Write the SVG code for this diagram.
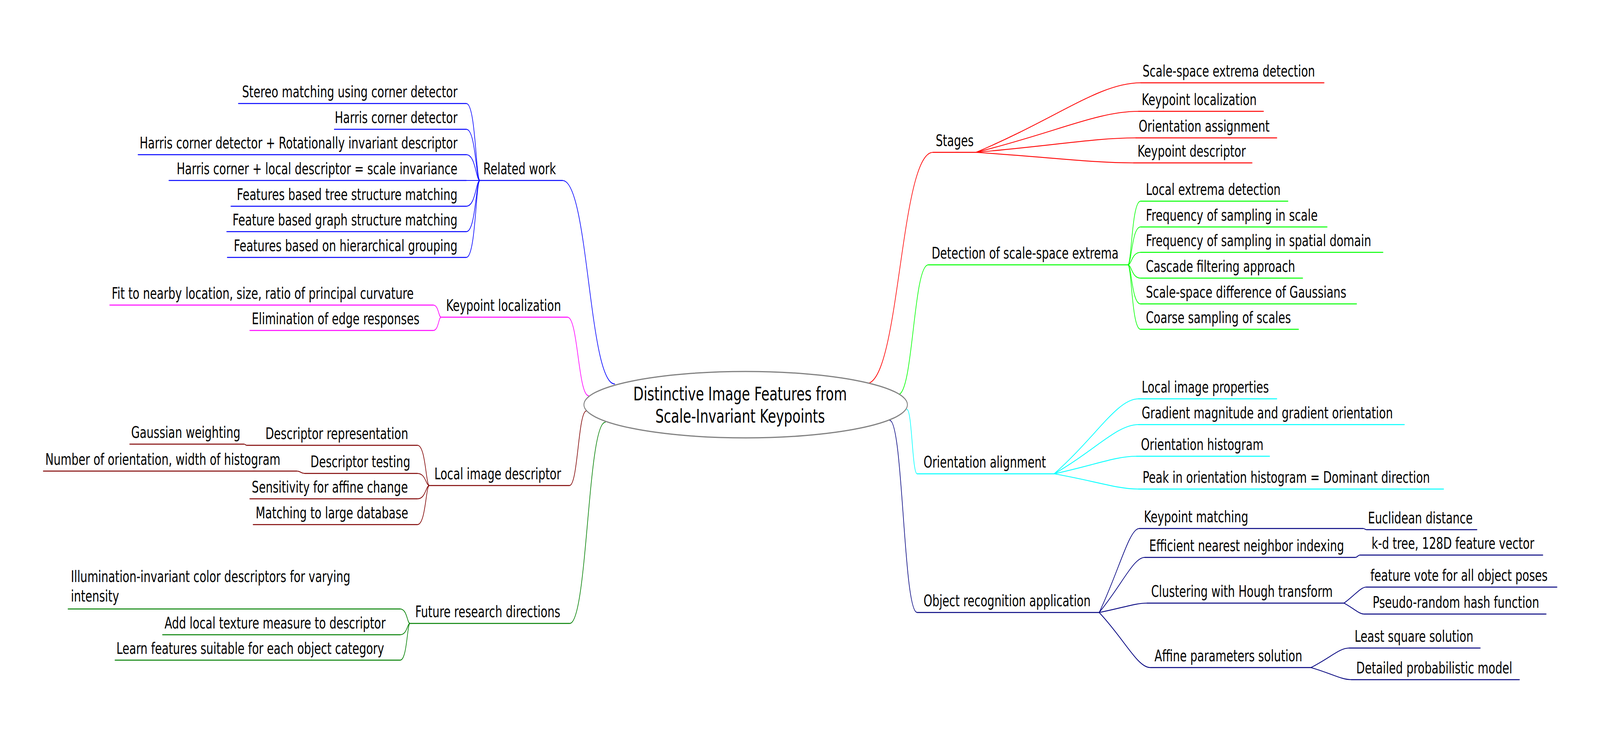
<svg xmlns="http://www.w3.org/2000/svg" width="5757" height="1897" viewBox="0 0 5757 1897" preserveAspectRatio="none">
<style>
svg{width:100vw;height:100vh}
text{font-family:"DejaVu Sans","Liberation Sans",sans-serif;font-size:40px;fill:#000}
.title{font-size:48px;text-anchor:middle}
.e{text-anchor:end}
.u{fill:none;stroke-width:2.6;stroke-linecap:round}
.k{fill:none;stroke-width:2.2;stroke-linecap:round}
.blue{stroke:#0000ff}.mag{stroke:#ff00ff}.mar{stroke:#7f0000}.grn{stroke:#007f00}
.red{stroke:#ff0000}.lime{stroke:#00ff00}.cyan{stroke:#00ffff}.navy{stroke:#00007f}
</style>
<rect width="5757" height="1897" fill="#fff"/>
<g id="connectors">
<path class="k blue" d="M2024,462 C2118,462 2118,983 2212,983"/>
<path class="k mag" d="M2042,812 C2080,812 2080,1013 2118,1013"/>
<path class="k mar" d="M2049,1243 C2080,1243 2080,1052 2110,1052"/>
<path class="k grn" d="M2050,1596 C2114,1596 2114,1081 2178,1081"/>
<path class="k red" d="M3118,982 C3238,982 3238,390 3357,390"/>
<path class="k lime" d="M3232,1010 C3286,1010 3286,678 3340,678"/>
<path class="k cyan" d="M3263,1048 C3282,1048 3282,1213 3300,1213"/>
<path class="k navy" d="M3201,1076 C3250,1076 3250,1568 3300,1568"/>
<g class="k blue">
<path d="M1678,265 C1712,265 1712,462 1727,462"/>
<path d="M1678,331 C1712,331 1712,462 1727,462"/>
<path d="M1678,396 C1712,396 1712,462 1727,462"/>
<path d="M1678,462 L1727,462"/>
<path d="M1678,528 C1712,528 1712,462 1727,462"/>
<path d="M1678,593 C1712,593 1712,462 1727,462"/>
<path d="M1678,659 C1712,659 1712,462 1727,462"/>
</g>
<g class="k mag">
<path d="M1559,781 C1578,781 1578,812 1587,812"/>
<path d="M1559,846 C1578,846 1578,812 1587,812"/>
</g>
<g class="k mar">
<path d="M1502,1140 C1532,1140 1532,1243 1545,1243"/>
<path d="M1502,1212 C1532,1212 1532,1243 1545,1243"/>
<path d="M1502,1277 C1532,1277 1532,1243 1545,1243"/>
<path d="M1502,1343 C1532,1343 1532,1243 1545,1243"/>
<path d="M888,1140 C883,1140 883,1137 878,1137"/>
<path d="M1096,1212 C1082,1212 1082,1206 1068,1206"/>
</g>
<g class="k grn">
<path d="M1440,1559 C1465,1559 1465,1596 1475,1596"/>
<path d="M1440,1625 C1465,1625 1465,1596 1475,1596"/>
<path d="M1440,1690 C1465,1690 1465,1596 1475,1596"/>
</g>
<g class="k red">
<path d="M3512,390 C3808,301 3956,212 4104,212"/>
<path d="M3512,390 C3804,338 3950,285 4096,285"/>
<path d="M3512,390 C3799,372 3943,353 4086,353"/>
<path d="M3512,390 C3795,404 3936,417 4078,417"/>
</g>
<g class="k lime">
<path d="M4058,678 C4072,678 4072,515 4104,515"/>
<path d="M4058,678 C4072,678 4072,581 4104,581"/>
<path d="M4058,678 C4072,678 4072,646 4104,646"/>
<path d="M4058,678 C4072,678 4072,712 4104,712"/>
<path d="M4058,678 C4072,678 4072,778 4104,778"/>
<path d="M4058,678 C4072,678 4072,843 4104,843"/>
</g>
<g class="k cyan">
<path d="M3793,1213 C3945,1117 4020,1021 4096,1021"/>
<path d="M3793,1213 C3945,1150 4020,1087 4096,1087"/>
<path d="M3793,1213 C3941,1190 4015,1168 4089,1168"/>
<path d="M3793,1213 C3945,1232 4020,1252 4096,1252"/>
</g>
<g class="k navy">
<path d="M3955,1568 C4027,1460 4063,1353 4099,1353"/>
<path d="M3955,1568 C4037,1497 4078,1427 4119,1427"/>
<path d="M3955,1568 C4041,1556 4084,1544 4127,1544"/>
<path d="M3955,1568 C4047,1638 4093,1709 4139,1709"/>
<path d="M4905,1353 C4911,1353 4911,1356 4917,1356"/>
<path d="M4877,1427 C4885,1427 4885,1421 4893,1421"/>
<path d="M4836,1544 C4876,1523 4896,1503 4916,1503"/>
<path d="M4836,1544 C4872,1558 4890,1572 4908,1572"/>
<path d="M4717,1709 C4786,1684 4820,1659 4854,1659"/>
<path d="M4717,1709 C4790,1724 4826,1740 4862,1740"/>
</g>
</g>

<g id="root">
<ellipse cx="2683" cy="1036" rx="582" ry="85" fill="#fff" stroke="#808080" stroke-width="3"/>
<text class="title" x="2663" y="1025">Distinctive Image Features from</text>
<text class="title" x="2663" y="1082">Scale-Invariant Keypoints</text>
</g>

<g id="related-work">
<path class="u blue" d="M1727,462 H2024"/><text x="1739" y="446">Related work</text>
</g>
<g id="rw-stereo"><path class="u blue" d="M858,265 H1678"/><text class="e" x="1646" y="249">Stereo matching using corner detector</text></g>
<g id="rw-harris"><path class="u blue" d="M1203,331 H1678"/><text class="e" x="1646" y="315">Harris corner detector</text></g>
<g id="rw-harris-rot"><path class="u blue" d="M497,396 H1678"/><text class="e" x="1646" y="380">Harris corner detector + Rotationally invariant descriptor</text></g>
<g id="rw-harris-local"><path class="u blue" d="M608,462 H1678"/><text class="e" x="1646" y="446">Harris corner + local descriptor = scale invariance</text></g>
<g id="rw-tree"><path class="u blue" d="M831,528 H1678"/><text class="e" x="1646" y="512">Features based tree structure matching</text></g>
<g id="rw-graph"><path class="u blue" d="M816,593 H1678"/><text class="e" x="1646" y="577">Feature based graph structure matching</text></g>
<g id="rw-hier"><path class="u blue" d="M818,659 H1678"/><text class="e" x="1646" y="643">Features based on hierarchical grouping</text></g>

<g id="keypoint-localization-l">
<path class="u mag" d="M1587,812 H2042"/><text x="1605" y="796">Keypoint localization</text>
</g>
<g id="kl-fit"><path class="u mag" d="M395,781 H1559"/><text x="402" y="765">Fit to nearby location, size, ratio of principal curvature</text></g>
<g id="kl-elim"><path class="u mag" d="M899,846 H1559"/><text x="906" y="830">Elimination of edge responses</text></g>

<g id="local-image-descriptor">
<path class="u mar" d="M1545,1243 H2049"/><text x="1563" y="1227">Local image descriptor</text>
</g>
<g id="lid-repr"><path class="u mar" d="M888,1140 H1502"/><text x="955" y="1124">Descriptor representation</text></g>
<g id="lid-gauss"><path class="u mar" d="M467,1137 H878"/><text x="472" y="1121">Gaussian weighting</text></g>
<g id="lid-testing"><path class="u mar" d="M1096,1212 H1502"/><text x="1117" y="1196">Descriptor testing</text></g>
<g id="lid-number"><path class="u mar" d="M156,1206 H1068"/><text x="163" y="1190">Number of orientation, width of histogram</text></g>
<g id="lid-sens"><path class="u mar" d="M899,1277 H1502"/><text x="906" y="1261">Sensitivity for affine change</text></g>
<g id="lid-match"><path class="u mar" d="M911,1343 H1502"/><text x="920" y="1327">Matching to large database</text></g>

<g id="future-research">
<path class="u grn" d="M1475,1596 H2050"/><text x="1494" y="1580">Future research directions</text>
</g>
<g id="fr-illum"><path class="u grn" d="M245,1559 H1440"/><text x="255" y="1490">Illumination-invariant color descriptors for varying</text><text x="255" y="1540">intensity</text></g>
<g id="fr-texture"><path class="u grn" d="M585,1625 H1440"/><text x="592" y="1609">Add local texture measure to descriptor</text></g>
<g id="fr-learn"><path class="u grn" d="M414,1690 H1440"/><text x="419" y="1674">Learn features suitable for each object category</text></g>

<g id="stages">
<path class="u red" d="M3357,390 H3512"/><text x="3367" y="374">Stages</text>
</g>
<g id="st-1"><path class="u red" d="M4104,212 H4764"/><text x="4111" y="196">Scale-space extrema detection</text></g>
<g id="st-2"><path class="u red" d="M4096,285 H4546"/><text x="4108" y="269">Keypoint localization</text></g>
<g id="st-3"><path class="u red" d="M4086,353 H4594"/><text x="4097" y="337">Orientation assignment</text></g>
<g id="st-4"><path class="u red" d="M4078,417 H4505"/><text x="4093" y="401">Keypoint descriptor</text></g>

<g id="detection">
<path class="u lime" d="M3340,678 H4058"/><text x="3352" y="662">Detection of scale-space extrema</text>
</g>
<g id="de-1"><path class="u lime" d="M4104,515 H4634"/><text x="4123" y="499">Local extrema detection</text></g>
<g id="de-2"><path class="u lime" d="M4104,581 H4775"/><text x="4123" y="565">Frequency of sampling in scale</text></g>
<g id="de-3"><path class="u lime" d="M4104,646 H4976"/><text x="4123" y="630">Frequency of sampling in spatial domain</text></g>
<g id="de-4"><path class="u lime" d="M4104,712 H4687"/><text x="4123" y="696">Cascade filtering approach</text></g>
<g id="de-5"><path class="u lime" d="M4104,778 H4881"/><text x="4123" y="762">Scale-space difference of Gaussians</text></g>
<g id="de-6"><path class="u lime" d="M4104,843 H4672"/><text x="4123" y="827">Coarse sampling of scales</text></g>

<g id="orientation-alignment">
<path class="u cyan" d="M3300,1213 H3793"/><text x="3323" y="1197">Orientation alignment</text>
</g>
<g id="oa-1"><path class="u cyan" d="M4096,1021 H4594"/><text x="4108" y="1005">Local image properties</text></g>
<g id="oa-2"><path class="u cyan" d="M4096,1087 H5053"/><text x="4108" y="1071">Gradient magnitude and gradient orientation</text></g>
<g id="oa-3"><path class="u cyan" d="M4089,1168 H4568"/><text x="4105" y="1152">Orientation histogram</text></g>
<g id="oa-4"><path class="u cyan" d="M4096,1252 H5194"/><text x="4111" y="1236">Peak in orientation histogram = Dominant direction</text></g>

<g id="object-recognition">
<path class="u navy" d="M3300,1568 H3955"/><text x="3323" y="1552">Object recognition application</text>
</g>
<g id="or-match"><path class="u navy" d="M4099,1353 H4905"/><text x="4116" y="1337">Keypoint matching</text></g>
<g id="or-euclid"><path class="u navy" d="M4917,1356 H5314"/><text x="4922" y="1340">Euclidean distance</text></g>
<g id="or-nn"><path class="u navy" d="M4119,1427 H4877"/><text x="4135" y="1411">Efficient nearest neighbor indexing</text></g>
<g id="or-kd"><path class="u navy" d="M4893,1421 H5551"/><text x="4935" y="1405">k-d tree, 128D feature vector</text></g>
<g id="or-hough"><path class="u navy" d="M4127,1544 H4836"/><text x="4142" y="1528">Clustering with Hough transform</text></g>
<g id="or-vote"><path class="u navy" d="M4916,1503 H5602"/><text x="4931" y="1487">feature vote for all object poses</text></g>
<g id="or-hash"><path class="u navy" d="M4908,1572 H5563"/><text x="4939" y="1556">Pseudo-random hash function</text></g>
<g id="or-affine"><path class="u navy" d="M4139,1709 H4717"/><text x="4154" y="1693">Affine parameters solution</text></g>
<g id="or-least"><path class="u navy" d="M4854,1659 H5326"/><text x="4874" y="1643">Least square solution</text></g>
<g id="or-prob"><path class="u navy" d="M4862,1740 H5467"/><text x="4880" y="1724">Detailed probabilistic model</text></g>
</svg>
